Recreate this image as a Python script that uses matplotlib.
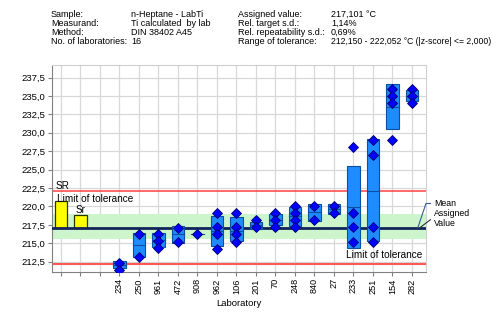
import numpy as np
import matplotlib
matplotlib.use("Agg")
import matplotlib.pyplot as plt

plt.rcParams['font.family'] = ['Liberation Sans', 'DejaVu Sans']

# header info
info_left = ["Sample:", "Measurand:", "Method:", "No. of laboratories:"]
info_left_val = ["n-Heptane - LabTi", "Ti calculated  by lab", "DIN 38402 A45", "16"]
info_right = ["Assigned value:", "Rel. target s.d.:", "Rel. repeatability s.d.:", "Range of tolerance:"]
info_right_val = ["217,101 °C", "1,14%", "0,69%", "212,150 - 222,052 °C (|z-score| <= 2,000)"]

assigned = 217.101
tol_low = 212.150
tol_high = 222.052
band_low = 215.6
band_high = 218.95
SR_val = 220.75
Sr_val = 218.8

# labs (slot 0,1 = SR/Sr, slot 2 empty)
labs = ["234", "250", "961", "472", "908", "962", "106", "201", "70",
        "248", "840", "27", "233", "251", "154", "282"]
box_lo = [211.6, 213.1, 214.55, 215.1, 216.25, 214.65, 215.35, 216.9, 217.5,
          217.4, 218.05, 218.95, 214.3, 215.25, 230.5, 234.3]
box_hi = [212.55, 216.45, 216.45, 217.4, 216.25, 218.75, 218.6, 217.9, 218.95,
          219.9, 220.3, 220.3, 225.5, 229.1, 236.6, 235.8]
medians = [212.0, 214.75, 215.45, 216.25, 216.25, 216.7, 216.7, 217.5, 218.15,
           218.7, 219.2, 219.6, 219.9, 222.1, 233.5, 235.0]
points = [
    [212.3, 211.35],
    [216.2, 213.2],
    [216.2, 215.3, 214.3],
    [217.1, 215.2],
    [216.25],
    [219.15, 217.15, 216.2, 214.2],
    [219.15, 217.15, 216.2, 215.15],
    [218.15, 217.15],
    [219.15, 218.15, 217.15],
    [220.1, 219.15, 218.15, 217.15],
    [220.1, 218.15],
    [220.1, 219.15],
    [228.05, 219.15, 217.15, 215.15],
    [229.0, 227.0, 217.15, 215.15],
    [235.95, 235.0, 234.0, 229.0],
    [235.95, 235.0, 234.0],
]

fig = plt.figure(figsize=(5.02, 3.12), dpi=100)
ax = fig.add_axes([52 / 502, 40 / 312, 374 / 502, 207 / 312])

# header
rows_y = [17, 26, 35, 44]
for i in range(4):
    yy = 1 - rows_y[i] / 312
    fig.text(51 / 502, yy, info_left[i], fontsize=6.5, va='baseline')
    fig.text(131 / 502, yy, info_left_val[i], fontsize=6.5, va='baseline')
    fig.text(238 / 502, yy, info_right[i], fontsize=6.5, va='baseline')
    fig.text(331 / 502, yy, info_right_val[i], fontsize=6.2 if i == 3 else 6.5, va='baseline')

xmin, xmax = -0.46, 18.72
ax.set_xlim(xmin, xmax)
ax.set_ylim(211.1, 239.2)

ax.axhspan(band_low, band_high, color='#ccf5cc', zorder=1, lw=0)
ax.axhline(tol_high, color='#ff4040', lw=1.1, zorder=2)
ax.axhline(tol_low, color='#ff5858', lw=1.5, zorder=2)

# SR / Sr bars
ax.bar([0, 1], [SR_val - assigned, Sr_val - assigned], bottom=assigned, width=0.62,
       color='#ffff00', edgecolor='#303000', lw=0.9, zorder=3)
ax.text(-0.28, tol_high + 0.05, "SR", fontsize=7.2, va='bottom', ha='left', zorder=5)
ax.text(0.75, Sr_val + 0.05, "Sr", fontsize=7.2, va='bottom', ha='left', zorder=5)
ax.text(-0.2, tol_high - 0.3, "Limit of tolerance", fontsize=7.2, va='top', ha='left', zorder=5)
ax.text(14.6, tol_low + 0.6, "Limit of tolerance", fontsize=7.2, va='bottom', ha='left', zorder=6)

ax.axhline(assigned, color='#12245a', lw=2, zorder=4)

xs = np.arange(3, 3 + len(labs))
w = 0.64
for i, x in enumerate(xs):
    lo, hi = box_lo[i], box_hi[i]
    if hi - lo > 0.01:
        ax.add_patch(plt.Rectangle((x - w / 2, lo), w, hi - lo, facecolor='#1e8cff',
                                   edgecolor='#0a4fa0', lw=0.8, zorder=5))
    ax.plot([x - w / 2, x + w / 2], [medians[i], medians[i]], color='#0a4fa0', lw=0.8, zorder=5)
    ax.plot([x] * len(points[i]), points[i], 'D', ms=4.8, color='#0000ff',
            mec='#00006a', mew=0.6, zorder=6, clip_on=True)

ax.set_xticks(np.arange(0, 19))
ax.set_xticklabels(["", "", ""] + labs, rotation=90, fontsize=6.6)
ax.set_yticks(np.arange(212.5, 238, 2.5))
ax.set_yticklabels([f"{v:.1f}".replace('.', ',') for v in np.arange(212.5, 238, 2.5)], fontsize=6.8)
ax.tick_params(length=3, color='#808080', pad=2)
ax.tick_params(axis='x', pad=1.5)
ax.grid(True, color='#d8d8d8', lw=0.9, zorder=0)
ax.set_axisbelow(True)
for s in ['top', 'right']:
    ax.spines[s].set_color('#d0d0d0')
for s in ['left', 'bottom']:
    ax.spines[s].set_color('#808080')
ax.set_xlabel("Laboratory", fontsize=6.8, labelpad=4)

# mean / assigned annotation
ax.plot([18.3, 18.72, 18.95], [assigned, 220.4, 220.4], color='#3a5a9a', lw=0.8, clip_on=False, zorder=7)
ax.plot([18.4, 18.95], [assigned, 218.2], color='#303030', lw=0.8, clip_on=False, zorder=7)
fig.text(434 / 502, 1 - 203 / 312, "Mean", fontsize=6.3, va='center')
fig.text(434 / 502, 1 - 213 / 312, "Assigned", fontsize=6.3, va='center')
fig.text(434 / 502, 1 - 223 / 312, "Value", fontsize=6.3, va='center')

fig.savefig("out.png", dpi=100)
